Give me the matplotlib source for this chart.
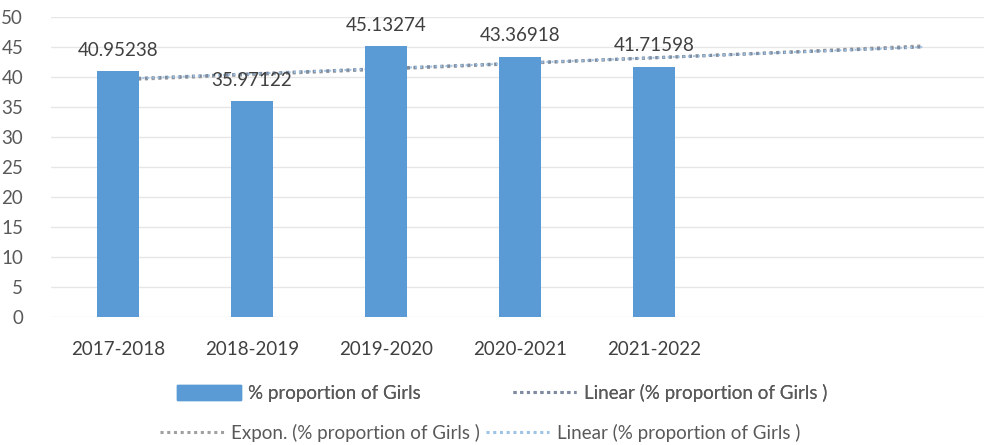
import numpy as np
import matplotlib.pyplot as plt
from matplotlib.lines import Line2D
from matplotlib.patches import Patch

plt.rcParams['font.family'] = ['Lato', 'DejaVu Sans']

years = ['2017-2018', '2018-2019', '2019-2020', '2020-2021', '2021-2022']
girls_pct = [40.95238, 35.97122, 45.13274, 43.36918, 41.71598]
label_txt = ['40.95238', '35.97122', '45.13274', '43.36918', '41.71598']

bar_col = '#5B9BD5'
txt_col = '#595959'
fs = 13.5

x = np.arange(len(years))
y = np.array(girls_pct)

# trendlines fitted on 1..n, projected two periods forward
t = np.arange(1, len(years) + 1)
t_ext = np.linspace(1, len(years) + 2, 50)
lin = np.polyfit(t, y, 1)
lin_y = np.polyval(lin, t_ext)
ex = np.polyfit(t, np.log(y), 1)
exp_y = np.exp(np.polyval(ex, t_ext))
x_ext = t_ext - 1

fig = plt.figure(figsize=(9.84, 4.45), dpi=100)
ax = fig.add_axes([51 / 984, 128 / 445, 933 / 984, 300 / 445])

ax.bar(x, y, width=0.31, color=bar_col, zorder=3)
ax.plot(x_ext, exp_y, color='#A0A0A0', lw=2.2, ls=(0, (1, 1.2)), zorder=2)
ax.plot(x_ext, lin_y, color='#7F8CA0', lw=2.2, ls=(0, (1, 1.2)), zorder=2)
ax.plot(x_ext, lin_y, color='#9DC3E6', lw=1.4, ls=(0.5, (1, 1.6)), zorder=2)

for xi, yi, s in zip(x, y, label_txt):
    ax.text(xi, yi + 2.6, s, ha='center', va='baseline', fontsize=fs,
            color='#404040', zorder=4)

ax.set_ylim(0, 50)
ax.set_xlim(-0.5, 6.46)
ax.set_yticks(range(0, 51, 5))
ax.set_xticks(x)
ax.set_xticklabels(years, color='#404040')
ax.tick_params(axis='both', length=0, labelsize=fs)
ax.tick_params(axis='y', pad=20, labelcolor=txt_col)
ax.tick_params(axis='x', pad=17)
ax.grid(axis='y', color='#E6E6E6', lw=1, zorder=0)
for sp in ax.spines.values():
    sp.set_visible(False)

# legend, laid out as two centred rows
dot = dict(lw=2.2, ls=(0, (1, 1.2)))
row1 = [Patch(color=bar_col), Line2D([], [], color='#7F8CA0', **dot)]
row2 = [Line2D([], [], color='#A0A0A0', **dot),
        Line2D([], [], color='#9DC3E6', **dot)]
lab = '(% proportion of Girls )'
leg1 = fig.legend(row1, ['% proportion of Girls', 'Linear ' + lab], ncol=2,
                  loc='center', bbox_to_anchor=(502 / 984, 1 - 393 / 445),
                  frameon=False, fontsize=fs, labelcolor=txt_col,
                  handlelength=3.4, handleheight=0.8, handletextpad=0.4,
                  columnspacing=4.9)
fig.add_artist(leg1)
fig.legend(row2, ['Expon. ' + lab, 'Linear ' + lab], ncol=2,
           loc='center', bbox_to_anchor=(480 / 984, 1 - 433 / 445),
           frameon=False, fontsize=fs, labelcolor=txt_col,
           handlelength=3.4, handletextpad=0.4, columnspacing=0.3)

fig.savefig('out.png', dpi=100)
